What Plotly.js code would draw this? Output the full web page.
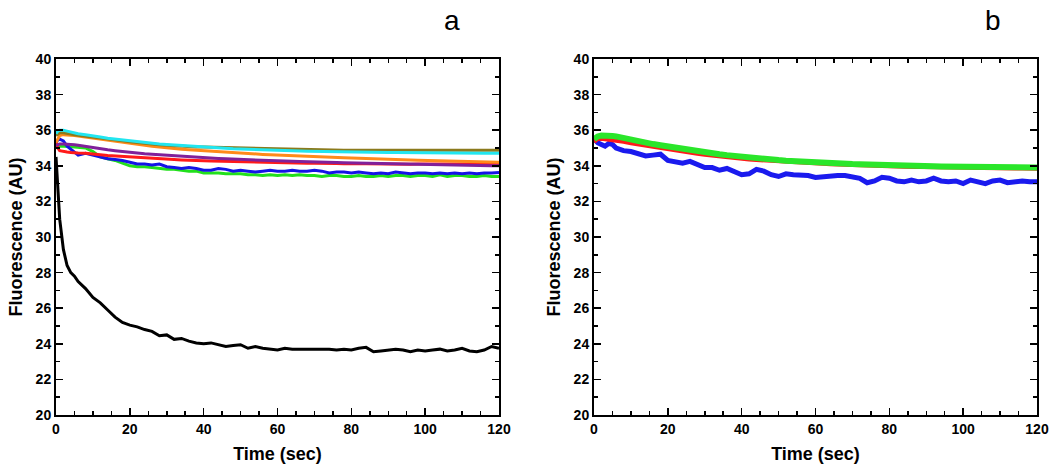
<!DOCTYPE html>
<html>
<head>
<meta charset="utf-8">
<script src="https://cdn.plot.ly/plotly-3.0.1.min.js"></script>
<style>html,body{margin:0;padding:0;background:#fff;}#chart{width:1050px;height:474px;}</style>
</head>
<body>
<div id="chart"></div>
<script>
// time points (sec)
const timeSec = [0,0.5,1,2,3,4,5,6,8,10,12,14,16,18,20,22,24,26,28,30,32,34,36,38,40,42,44,46,48,50,52,54,56,58,60,62,64,66,68,70,72,74,76,78,80,82,84,86,88,90,92,94,96,98,100,102,104,106,108,110,112,114,116,118,120];

// Panel a
const aCyan = [35.8,35.95,36.0,36.0,35.95,35.9,35.85,35.8,35.75,35.7,35.62,35.55,35.5,35.45,35.4,35.35,35.3,35.27,35.23,35.2,35.17,35.13,35.1,35.07,35.05,35.03,35.0,34.98,34.96,34.95,34.93,34.92,34.9,34.88,34.86,34.85,34.84,34.83,34.82,34.81,34.8,34.8,34.79,34.78,34.78,34.77,34.77,34.76,34.76,34.75,34.75,34.75,34.74,34.74,34.74,34.73,34.73,34.73,34.72,34.72,34.72,34.71,34.71,34.7,34.7];
const aOlive = [35.7,35.8,35.85,35.85,35.8,35.78,35.75,35.72,35.68,35.62,35.56,35.5,35.45,35.4,35.35,35.3,35.26,35.22,35.18,35.15,35.12,35.1,35.08,35.06,35.05,35.04,35.02,35.0,35.0,34.98,34.97,34.96,34.95,34.94,34.93,34.92,34.92,34.91,34.9,34.9,34.9,34.89,34.89,34.88,34.88,34.88,34.87,34.87,34.87,34.87,34.86,34.86,34.86,34.86,34.86,34.85,34.85,34.85,34.86,34.86,34.86,34.85,34.85,34.87,34.88];
const aOrange = [35.3,35.55,35.7,35.75,35.75,35.72,35.7,35.67,35.62,35.55,35.48,35.42,35.36,35.3,35.25,35.2,35.15,35.1,35.05,35.0,34.97,34.93,34.9,34.87,34.84,34.81,34.78,34.75,34.72,34.7,34.68,34.66,34.64,34.62,34.6,34.58,34.56,34.55,34.53,34.51,34.5,34.48,34.47,34.45,34.44,34.42,34.41,34.39,34.38,34.36,34.35,34.34,34.32,34.31,34.3,34.29,34.28,34.27,34.26,34.25,34.24,34.23,34.22,34.21,34.2];
const aPurple = [35.15,35.2,35.22,35.22,35.22,35.2,35.18,35.15,35.08,35.0,34.95,34.9,34.85,34.8,34.76,34.72,34.68,34.65,34.62,34.58,34.55,34.52,34.5,34.47,34.45,34.43,34.41,34.39,34.37,34.35,34.33,34.32,34.3,34.29,34.28,34.26,34.25,34.24,34.22,34.21,34.2,34.19,34.18,34.17,34.16,34.15,34.14,34.13,34.12,34.11,34.1,34.09,34.08,34.07,34.06,34.05,34.05,34.04,34.03,34.03,34.02,34.02,34.01,34.0,34.0];
const aRed = [35.4,35.0,34.85,34.8,34.78,34.75,34.72,34.72,34.7,34.68,34.62,34.58,34.55,34.52,34.5,34.47,34.45,34.42,34.4,34.38,34.35,34.33,34.3,34.3,34.28,34.27,34.26,34.25,34.24,34.23,34.22,34.2,34.2,34.19,34.15,34.17,34.16,34.15,34.14,34.15,34.13,34.12,34.13,34.12,34.1,34.12,34.11,34.1,34.1,34.1,34.11,34.1,34.09,34.1,34.1,34.09,34.1,34.08,34.1,34.1,34.09,34.1,34.08,34.1,34.1];
const aBlue = [35.3,35.45,35.5,35.4,35.1,34.95,34.75,34.6,34.7,34.6,34.5,34.4,34.35,34.3,34.2,34.1,34.1,34.05,34.1,33.95,33.9,33.85,33.9,33.85,33.75,33.75,33.85,33.8,33.7,33.75,33.7,33.65,33.7,33.75,33.7,33.7,33.75,33.7,33.7,33.75,33.7,33.6,33.65,33.65,33.6,33.65,33.6,33.55,33.6,33.55,33.65,33.6,33.55,33.6,33.6,33.55,33.6,33.55,33.6,33.55,33.6,33.55,33.6,33.6,33.62];
const aGreen = [35.0,35.05,35.1,35.1,35.1,35.08,35.05,35.02,35.0,34.8,34.5,34.4,34.3,34.15,34.0,33.95,33.95,33.9,33.85,33.8,33.8,33.75,33.7,33.7,33.6,33.6,33.6,33.55,33.55,33.55,33.5,33.5,33.45,33.5,33.45,33.5,33.45,33.5,33.45,33.45,33.4,33.45,33.45,33.4,33.4,33.45,33.4,33.4,33.45,33.4,33.45,33.45,33.4,33.45,33.45,33.4,33.5,33.4,33.45,33.45,33.4,33.4,33.45,33.4,33.4];
const aBlack = [34.5,32.5,31.0,29.3,28.4,28.0,27.8,27.5,27.1,26.6,26.3,25.9,25.5,25.2,25.05,24.95,24.8,24.7,24.45,24.5,24.25,24.3,24.15,24.05,24.0,24.05,23.95,23.85,23.9,23.95,23.75,23.85,23.75,23.7,23.65,23.75,23.7,23.7,23.7,23.7,23.7,23.7,23.65,23.7,23.65,23.75,23.8,23.55,23.6,23.65,23.7,23.65,23.55,23.65,23.6,23.65,23.7,23.6,23.65,23.75,23.6,23.55,23.65,23.85,23.75];

// Panel b
const bRed = [35.35,35.45,35.5,35.52,35.5,35.48,35.45,35.42,35.35,35.27,35.2,35.12,35.05,34.98,34.92,34.86,34.8,34.74,34.68,34.62,34.57,34.52,34.48,34.44,34.4,34.36,34.33,34.3,34.27,34.24,34.22,34.19,34.17,34.15,34.13,34.11,34.09,34.07,34.05,34.04,34.02,34.01,34.0,33.98,33.97,33.96,33.95,33.94,33.93,33.92,33.91,33.9,33.9,33.89,33.88,33.88,33.87,33.87,33.86,33.86,33.85,33.85,33.85,33.84,33.84];
const bGreen = [35.5,35.6,35.65,35.7,35.72,35.7,35.68,35.65,35.55,35.45,35.37,35.3,35.22,35.15,35.08,35.0,34.95,34.88,34.82,34.76,34.7,34.65,34.6,34.55,34.5,34.46,34.42,34.38,34.35,34.32,34.29,34.26,34.24,34.22,34.2,34.18,34.16,34.14,34.12,34.1,34.09,34.07,34.06,34.05,34.03,34.02,34.01,34.0,33.99,33.98,33.97,33.96,33.96,33.95,33.94,33.94,33.93,33.93,33.92,33.92,33.91,33.91,33.9,33.9,33.9];
const bBlue = [35.5,35.4,35.3,35.2,35.1,35.25,35.2,35.0,34.85,34.8,34.7,34.55,34.6,34.65,34.3,34.25,34.15,34.25,34.1,33.9,33.9,33.75,33.85,33.7,33.5,33.55,33.8,33.7,33.5,33.4,33.55,33.5,33.5,33.45,33.35,33.4,33.4,33.45,33.45,33.4,33.3,33.05,33.15,33.35,33.3,33.15,33.1,33.2,33.1,33.15,33.3,33.15,33.1,33.15,33.0,33.2,33.1,33.0,33.15,33.2,33.05,33.1,33.15,33.1,33.1];

const xTickVals = [0,20,40,60,80,100,120];
const yTickVals = [20,22,24,26,28,30,32,34,36,38,40];
const panelLabels = ["a","b"];

function tr(y, color, width, xa, ya) {
  return {x: timeSec, y: y, type: "scatter", mode: "lines",
    line: {color: color, width: width}, xaxis: xa, yaxis: ya, hoverinfo: "skip"};
}

const traces = [
  tr(aBlack, "#000000", 3, "x", "y"),
  tr(aGreen, "#22e01c", 3, "x", "y"),
  tr(aBlue, "#1414e6", 3, "x", "y"),
  tr(aRed, "#ff1a1a", 3, "x", "y"),
  tr(aPurple, "#80209a", 3, "x", "y"),
  tr(aOrange, "#ff8a1a", 3, "x", "y"),
  tr(aOlive, "#8b7a1c", 3, "x", "y"),
  tr(aCyan, "#22e6f0", 3, "x", "y"),
  tr(bBlue, "#1a1aee", 5, "x2", "y2"),
  tr(bRed, "#ff1a1a", 4, "x2", "y2"),
  tr(bGreen, "#2ae62a", 6, "x2", "y2")
];

const tickFont = {family: "Liberation Sans, Arial, sans-serif", size: 14, color: "#000", weight: "bold"};
const titleFont = {family: "Liberation Sans, Arial, sans-serif", size: 18, color: "#000", weight: "bold"};

function xax(domain, anchor) {
  return {domain: domain, anchor: anchor, range: [0, 120], tickvals: xTickVals,
    ticks: "inside", ticklen: 7, tickwidth: 1.5, tickcolor: "#000",
    minor: {dtick: 5, tick0: 0, ticks: "inside", ticklen: 4, tickwidth: 1.5, tickcolor: "#000"},
    showline: true, linecolor: "#000", linewidth: 2, mirror: "ticks",
    showgrid: false, zeroline: false, tickfont: tickFont,
    title: {text: "Time (sec)", font: titleFont, standoff: 12}};
}
function yax(domain, anchor) {
  return {domain: domain, anchor: anchor, range: [20, 40], tickvals: yTickVals,
    ticks: "inside", ticklen: 7, tickwidth: 1.5, tickcolor: "#000",
    minor: {dtick: 1, tick0: 0, ticks: "inside", ticklen: 4, tickwidth: 1.5, tickcolor: "#000"},
    showline: true, linecolor: "#000", linewidth: 2, mirror: "ticks",
    showgrid: false, zeroline: false, tickfont: tickFont,
    title: {text: "Fluorescence (AU)", font: titleFont, standoff: 8}};
}

const layout = {
  width: 1050, height: 474,
  margin: {l: 0, r: 0, t: 0, b: 0},
  paper_bgcolor: "#fff", plot_bgcolor: "#fff",
  showlegend: false,
  xaxis: xax([56/1050, 499/1050], "y"),
  yaxis: yax([59/474, 415/474].map(v => 1 - v).reverse(), "x"),
  xaxis2: xax([594/1050, 1037/1050], "y2"),
  yaxis2: yax([59/474, 415/474].map(v => 1 - v).reverse(), "x2"),
  annotations: [
    {text: panelLabels[0], xref: "paper", yref: "paper", x: 452/1050, y: 1 - 20/474, xanchor: "center", yanchor: "middle", showarrow: false, font: {family: "Liberation Sans, Arial, sans-serif", size: 28, color: "#000"}},
    {text: panelLabels[1], xref: "paper", yref: "paper", x: 993/1050, y: 1 - 20/474, xanchor: "center", yanchor: "middle", showarrow: false, font: {family: "Liberation Sans, Arial, sans-serif", size: 28, color: "#000"}}
  ]
};

Plotly.newPlot("chart", traces, layout, {displayModeBar: false, staticPlot: true});
</script>
</body>
</html>
